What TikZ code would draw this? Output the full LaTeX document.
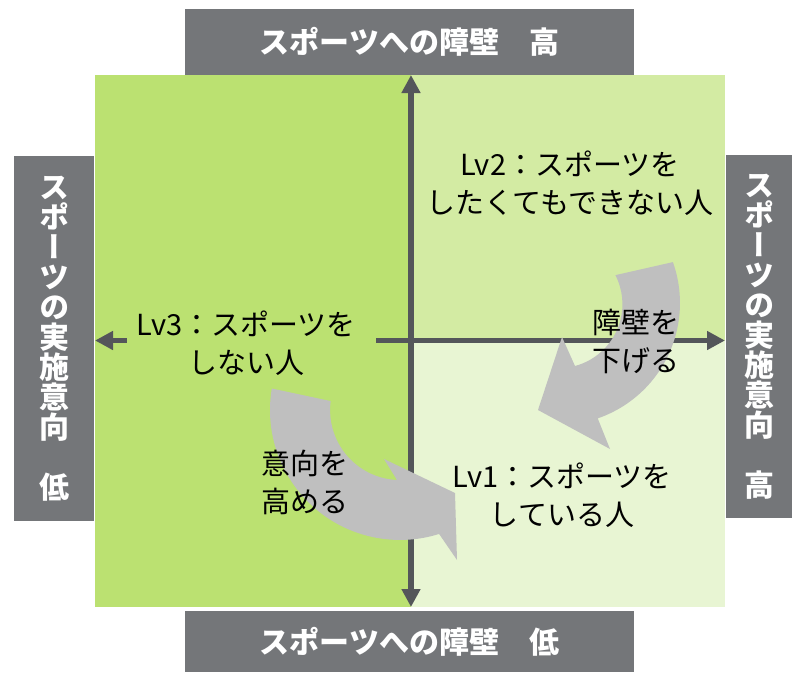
\documentclass[tikz,border=0pt]{standalone}
\usepackage{fontspec}
\setmainfont{Noto Sans CJK JP}
\newfontfamily\vfont[RawFeature=+vert]{Noto Sans CJK JP}
\usetikzlibrary{arrows.meta}
\definecolor{boxgray}{RGB}{116,118,121}
\definecolor{axisgray}{RGB}{84,86,90}
\definecolor{arrowgray}{RGB}{191,191,191}
\definecolor{leftgreen}{RGB}{187,225,113}
\definecolor{topgreen}{RGB}{211,235,163}
\definecolor{botgreen}{RGB}{232,245,211}
\begin{document}
\begin{tikzpicture}[x=1pt,y=-1pt,
  hdr/.style={fill=boxgray, draw=none, text=white, inner sep=0pt,
    font=\bfseries\fontsize{30}{30}\selectfont},
  vbox/.style={fill=boxgray, draw=none, text=white, inner sep=0pt, align=center,
    font=\vfont\bfseries\fontsize{30}{30}\selectfont},
  lbl/.style={align=center, text=black, inner sep=0pt,
    font=\fontsize{29}{38}\selectfont},
  axis/.style={draw=axisgray, line width=5.5pt,
    {Triangle[length=18pt,width=18pt]}-{Triangle[length=18pt,width=18pt]}},
  bigarrow/.style={fill=arrowgray, draw=none}]
\useasboundingbox (0,0) rectangle (792,672);
% quadrants
\fill[leftgreen] (95,75) rectangle (411,607);
\fill[topgreen] (411,75) rectangle (725,340.5);
\fill[botgreen] (411,340.5) rectangle (725,607);
% header boxes
\node[hdr, minimum width=449pt, minimum height=66pt] (top) at (409.5,42) {スポーツへの障壁　高};
\node[hdr, minimum width=449pt, minimum height=61pt] (bottom) at (409.5,641.5) {スポーツへの障壁　低};
\node[vbox, minimum width=80pt, minimum height=365pt] (left) at (54,338.5)
  {ス\\ポ\\ー\\ツ\\の\\実\\施\\意\\向\\[30pt]低};
\node[vbox, minimum width=66pt, minimum height=363pt] (right) at (759,336.5)
  {ス\\ポ\\ー\\ツ\\の\\実\\施\\意\\向\\[30pt]高};
% axes
\coordinate (vt) at (411,75);
\coordinate (vb) at (411,607);
\coordinate (hl) at (95,340.5);
\coordinate (hr) at (725,340.5);
\draw[axis] (vb) -- (vt);
\draw[axis] (hl) -- (hr);
% Lv3 label with background covering the axis
\node[fill=leftgreen, minimum width=249pt, minimum height=24pt, inner sep=0pt] (lv3bg) at (251.5,340.5) {};
\node[lbl] (lv3) at (246,343) {Lv3：スポーツを\\しない人};
% curved block arrows
\fill[bigarrow] (672.9,262.1) arc[start angle=-19.6, end angle=71, radius=122]
  -- (610,449) -- (538,410) -- (562,337) -- (575,366)
  arc[start angle=75, end angle=-27, radius=64] -- cycle;
\fill[bigarrow] (271.8,388.5) arc[start angle=189.5, end angle=72.5, radius=130]
  -- (457,560) -- (455,493) -- (384,459) -- (397,480)
  arc[start angle=92.5, end angle=187.4, radius=70] -- cycle;
% labels
\node[lbl] (lv2) at (570,183) {Lv2：スポーツを\\したくてもできない人};
\node[lbl] (lv1) at (562,495) {Lv1：スポーツを\\している人};
\node[lbl] (down) at (636,341) {障壁を\\下げる};
\node[lbl] (up) at (305,482) {意向を\\高める};
\end{tikzpicture}
\end{document}
